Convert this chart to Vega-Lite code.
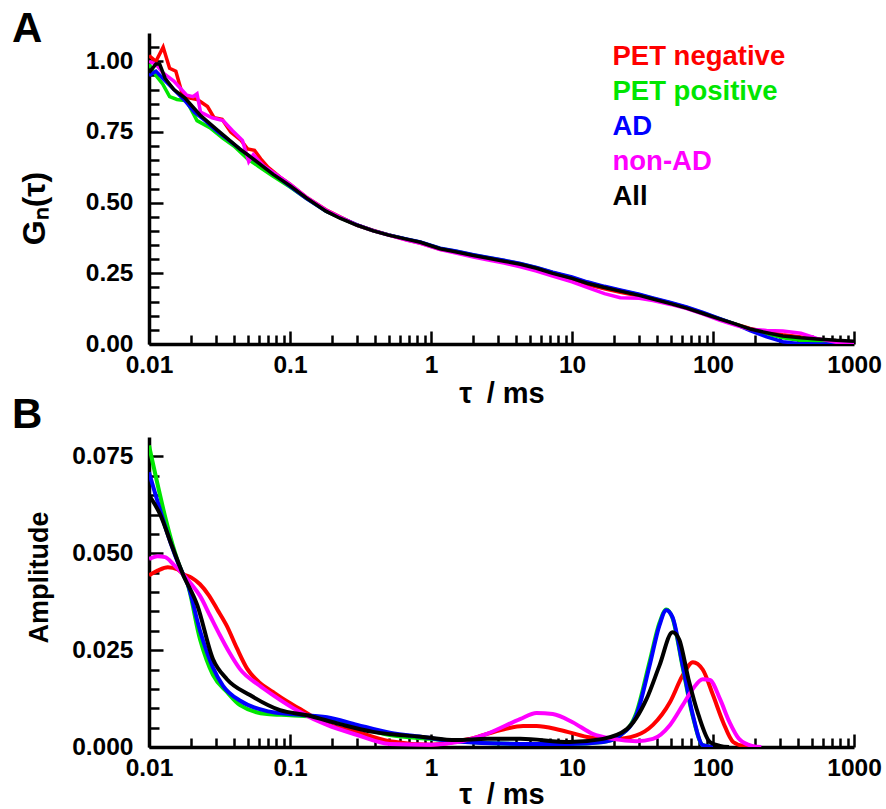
{
  "$schema": "https://vega.github.io/schema/vega-lite/v6.json",
  "padding": {"left": 12, "top": 8, "right": 0, "bottom": 0},
  "background": "white",
  "spacing": -15,
  "config": {
    "font": "Liberation Sans",
    "view": {"stroke": null},
    "axis": {
      "labelFont": "Liberation Sans", "labelFontWeight": "bold", "labelFontSize": 24.5, "labelColor": "black",
      "titleFont": "Liberation Sans", "titleFontWeight": "bold", "titleFontSize": 27, "titleColor": "black",
      "domainColor": "black", "domainWidth": 3.5, "tickColor": "black", "tickWidth": 2.5, "grid": false,
      "labelOverlap": false, "labelFlush": false
    },
    "title": {"font": "Liberation Sans", "fontWeight": "bold", "fontSize": 42, "color": "black", "anchor": "start", "frame": "group", "baseline": "alphabetic"}
  },
  "datasets": {
    "A": [
      {"series": "PET negative", "tau": 0.01, "y": 1.02}, {"series": "PET negative", "tau": 0.0112, "y": 1.0}, {"series": "PET negative", "tau": 0.0126, "y": 1.05}, {"series": "PET negative", "tau": 0.014, "y": 0.975}, {"series": "PET negative", "tau": 0.0155, "y": 0.965}, {"series": "PET negative", "tau": 0.0172, "y": 0.885}, {"series": "PET negative", "tau": 0.0195, "y": 0.87}, {"series": "PET negative", "tau": 0.022, "y": 0.865}, {"series": "PET negative", "tau": 0.026, "y": 0.84}, {"series": "PET negative", "tau": 0.029, "y": 0.8}, {"series": "PET negative", "tau": 0.033, "y": 0.795}, {"series": "PET negative", "tau": 0.038, "y": 0.75}, {"series": "PET negative", "tau": 0.045, "y": 0.72}, {"series": "PET negative", "tau": 0.05, "y": 0.69}, {"series": "PET negative", "tau": 0.056, "y": 0.685}, {"series": "PET negative", "tau": 0.062, "y": 0.655}, {"series": "PET negative", "tau": 0.07, "y": 0.625}, {"series": "PET negative", "tau": 0.085, "y": 0.59}, {"series": "PET negative", "tau": 0.1, "y": 0.565}, {"series": "PET negative", "tau": 0.13, "y": 0.52}, {"series": "PET negative", "tau": 0.18, "y": 0.475}, {"series": "PET negative", "tau": 0.23, "y": 0.448}, {"series": "PET negative", "tau": 0.3, "y": 0.42}, {"series": "PET negative", "tau": 0.39, "y": 0.402}, {"series": "PET negative", "tau": 0.5, "y": 0.386}, {"series": "PET negative", "tau": 0.68, "y": 0.368}, {"series": "PET negative", "tau": 0.84, "y": 0.357}, {"series": "PET negative", "tau": 1.16, "y": 0.335}, {"series": "PET negative", "tau": 1.5, "y": 0.325}, {"series": "PET negative", "tau": 2, "y": 0.31}, {"series": "PET negative", "tau": 2.5, "y": 0.302}, {"series": "PET negative", "tau": 3.3, "y": 0.29}, {"series": "PET negative", "tau": 4.3, "y": 0.278}, {"series": "PET negative", "tau": 5.6, "y": 0.264}, {"series": "PET negative", "tau": 7.3, "y": 0.245}, {"series": "PET negative", "tau": 10, "y": 0.228}, {"series": "PET negative", "tau": 12.8, "y": 0.21}, {"series": "PET negative", "tau": 17, "y": 0.195}, {"series": "PET negative", "tau": 22, "y": 0.183}, {"series": "PET negative", "tau": 30, "y": 0.17}, {"series": "PET negative", "tau": 37.5, "y": 0.158}, {"series": "PET negative", "tau": 50, "y": 0.142}, {"series": "PET negative", "tau": 65, "y": 0.128}, {"series": "PET negative", "tau": 85, "y": 0.108}, {"series": "PET negative", "tau": 112, "y": 0.088}, {"series": "PET negative", "tau": 145, "y": 0.07}, {"series": "PET negative", "tau": 183, "y": 0.055}, {"series": "PET negative", "tau": 240, "y": 0.042}, {"series": "PET negative", "tau": 313, "y": 0.033}, {"series": "PET negative", "tau": 420, "y": 0.025}, {"series": "PET negative", "tau": 545, "y": 0.017}, {"series": "PET negative", "tau": 750, "y": 0.01}, {"series": "PET negative", "tau": 1000, "y": 0.006},

      {"series": "PET positive", "tau": 0.01, "y": 0.99}, {"series": "PET positive", "tau": 0.0112, "y": 0.95}, {"series": "PET positive", "tau": 0.0125, "y": 0.92}, {"series": "PET positive", "tau": 0.014, "y": 0.875}, {"series": "PET positive", "tau": 0.0158, "y": 0.865}, {"series": "PET positive", "tau": 0.0185, "y": 0.86}, {"series": "PET positive", "tau": 0.0219, "y": 0.79}, {"series": "PET positive", "tau": 0.027, "y": 0.765}, {"series": "PET positive", "tau": 0.0335, "y": 0.727}, {"series": "PET positive", "tau": 0.04, "y": 0.7}, {"series": "PET positive", "tau": 0.05, "y": 0.655}, {"series": "PET positive", "tau": 0.06, "y": 0.628}, {"series": "PET positive", "tau": 0.075, "y": 0.595}, {"series": "PET positive", "tau": 0.1, "y": 0.555}, {"series": "PET positive", "tau": 0.13, "y": 0.515}, {"series": "PET positive", "tau": 0.18, "y": 0.47}, {"series": "PET positive", "tau": 0.23, "y": 0.445}, {"series": "PET positive", "tau": 0.3, "y": 0.42}, {"series": "PET positive", "tau": 0.39, "y": 0.4}, {"series": "PET positive", "tau": 0.5, "y": 0.386}, {"series": "PET positive", "tau": 0.68, "y": 0.37}, {"series": "PET positive", "tau": 0.84, "y": 0.36}, {"series": "PET positive", "tau": 1.16, "y": 0.338}, {"series": "PET positive", "tau": 1.5, "y": 0.328}, {"series": "PET positive", "tau": 2, "y": 0.315}, {"series": "PET positive", "tau": 2.5, "y": 0.306}, {"series": "PET positive", "tau": 3.3, "y": 0.295}, {"series": "PET positive", "tau": 4.3, "y": 0.284}, {"series": "PET positive", "tau": 5.6, "y": 0.27}, {"series": "PET positive", "tau": 7.3, "y": 0.253}, {"series": "PET positive", "tau": 10, "y": 0.235}, {"series": "PET positive", "tau": 12.8, "y": 0.218}, {"series": "PET positive", "tau": 17, "y": 0.202}, {"series": "PET positive", "tau": 22, "y": 0.189}, {"series": "PET positive", "tau": 30, "y": 0.174}, {"series": "PET positive", "tau": 37.5, "y": 0.161}, {"series": "PET positive", "tau": 50, "y": 0.145}, {"series": "PET positive", "tau": 65, "y": 0.129}, {"series": "PET positive", "tau": 85, "y": 0.11}, {"series": "PET positive", "tau": 112, "y": 0.089}, {"series": "PET positive", "tau": 145, "y": 0.07}, {"series": "PET positive", "tau": 183, "y": 0.052}, {"series": "PET positive", "tau": 240, "y": 0.036}, {"series": "PET positive", "tau": 313, "y": 0.022}, {"series": "PET positive", "tau": 420, "y": 0.012}, {"series": "PET positive", "tau": 545, "y": 0.007}, {"series": "PET positive", "tau": 750, "y": 0.004}, {"series": "PET positive", "tau": 1000, "y": 0.002},

      {"series": "AD", "tau": 0.01, "y": 0.95}, {"series": "AD", "tau": 0.0112, "y": 0.965}, {"series": "AD", "tau": 0.0125, "y": 0.94}, {"series": "AD", "tau": 0.015, "y": 0.9}, {"series": "AD", "tau": 0.018, "y": 0.86}, {"series": "AD", "tau": 0.021, "y": 0.82}, {"series": "AD", "tau": 0.025, "y": 0.79}, {"series": "AD", "tau": 0.03, "y": 0.755}, {"series": "AD", "tau": 0.036, "y": 0.725}, {"series": "AD", "tau": 0.044, "y": 0.69}, {"series": "AD", "tau": 0.055, "y": 0.655}, {"series": "AD", "tau": 0.065, "y": 0.628}, {"series": "AD", "tau": 0.08, "y": 0.595}, {"series": "AD", "tau": 0.1, "y": 0.558}, {"series": "AD", "tau": 0.13, "y": 0.515}, {"series": "AD", "tau": 0.18, "y": 0.47}, {"series": "AD", "tau": 0.23, "y": 0.446}, {"series": "AD", "tau": 0.3, "y": 0.421}, {"series": "AD", "tau": 0.39, "y": 0.401}, {"series": "AD", "tau": 0.5, "y": 0.386}, {"series": "AD", "tau": 0.68, "y": 0.371}, {"series": "AD", "tau": 0.84, "y": 0.361}, {"series": "AD", "tau": 1.16, "y": 0.339}, {"series": "AD", "tau": 1.5, "y": 0.329}, {"series": "AD", "tau": 2, "y": 0.316}, {"series": "AD", "tau": 2.5, "y": 0.307}, {"series": "AD", "tau": 3.3, "y": 0.296}, {"series": "AD", "tau": 4.3, "y": 0.285}, {"series": "AD", "tau": 5.6, "y": 0.271}, {"series": "AD", "tau": 7.3, "y": 0.254}, {"series": "AD", "tau": 10, "y": 0.237}, {"series": "AD", "tau": 12.8, "y": 0.22}, {"series": "AD", "tau": 17, "y": 0.204}, {"series": "AD", "tau": 22, "y": 0.191}, {"series": "AD", "tau": 30, "y": 0.176}, {"series": "AD", "tau": 37.5, "y": 0.163}, {"series": "AD", "tau": 50, "y": 0.147}, {"series": "AD", "tau": 65, "y": 0.131}, {"series": "AD", "tau": 85, "y": 0.112}, {"series": "AD", "tau": 112, "y": 0.09}, {"series": "AD", "tau": 145, "y": 0.069}, {"series": "AD", "tau": 183, "y": 0.047}, {"series": "AD", "tau": 240, "y": 0.025}, {"series": "AD", "tau": 313, "y": 0.008}, {"series": "AD", "tau": 400, "y": 0.002}, {"series": "AD", "tau": 545, "y": 0.0}, {"series": "AD", "tau": 1000, "y": 0.0},

      {"series": "non-AD", "tau": 0.01, "y": 1.0}, {"series": "non-AD", "tau": 0.0112, "y": 0.99}, {"series": "non-AD", "tau": 0.0125, "y": 0.96}, {"series": "non-AD", "tau": 0.015, "y": 0.93}, {"series": "non-AD", "tau": 0.0185, "y": 0.88}, {"series": "non-AD", "tau": 0.0205, "y": 0.875}, {"series": "non-AD", "tau": 0.0219, "y": 0.885}, {"series": "non-AD", "tau": 0.0232, "y": 0.82}, {"series": "non-AD", "tau": 0.028, "y": 0.8}, {"series": "non-AD", "tau": 0.0335, "y": 0.79}, {"series": "non-AD", "tau": 0.039, "y": 0.755}, {"series": "non-AD", "tau": 0.046, "y": 0.72}, {"series": "non-AD", "tau": 0.051, "y": 0.645}, {"series": "non-AD", "tau": 0.055, "y": 0.67}, {"series": "non-AD", "tau": 0.065, "y": 0.63}, {"series": "non-AD", "tau": 0.08, "y": 0.6}, {"series": "non-AD", "tau": 0.1, "y": 0.565}, {"series": "non-AD", "tau": 0.13, "y": 0.52}, {"series": "non-AD", "tau": 0.18, "y": 0.474}, {"series": "non-AD", "tau": 0.23, "y": 0.447}, {"series": "non-AD", "tau": 0.3, "y": 0.42}, {"series": "non-AD", "tau": 0.39, "y": 0.4}, {"series": "non-AD", "tau": 0.5, "y": 0.385}, {"series": "non-AD", "tau": 0.68, "y": 0.367}, {"series": "non-AD", "tau": 0.84, "y": 0.356}, {"series": "non-AD", "tau": 1.16, "y": 0.334}, {"series": "non-AD", "tau": 1.5, "y": 0.322}, {"series": "non-AD", "tau": 2, "y": 0.308}, {"series": "non-AD", "tau": 2.5, "y": 0.298}, {"series": "non-AD", "tau": 3.3, "y": 0.286}, {"series": "non-AD", "tau": 4.3, "y": 0.273}, {"series": "non-AD", "tau": 5.6, "y": 0.258}, {"series": "non-AD", "tau": 7.3, "y": 0.24}, {"series": "non-AD", "tau": 10, "y": 0.22}, {"series": "non-AD", "tau": 12.8, "y": 0.2}, {"series": "non-AD", "tau": 17, "y": 0.178}, {"series": "non-AD", "tau": 22, "y": 0.164}, {"series": "non-AD", "tau": 30, "y": 0.162}, {"series": "non-AD", "tau": 37.5, "y": 0.154}, {"series": "non-AD", "tau": 50, "y": 0.14}, {"series": "non-AD", "tau": 65, "y": 0.125}, {"series": "non-AD", "tau": 85, "y": 0.106}, {"series": "non-AD", "tau": 112, "y": 0.084}, {"series": "non-AD", "tau": 145, "y": 0.066}, {"series": "non-AD", "tau": 183, "y": 0.052}, {"series": "non-AD", "tau": 240, "y": 0.048}, {"series": "non-AD", "tau": 313, "y": 0.046}, {"series": "non-AD", "tau": 420, "y": 0.038}, {"series": "non-AD", "tau": 545, "y": 0.02}, {"series": "non-AD", "tau": 750, "y": 0.006}, {"series": "non-AD", "tau": 1000, "y": 0.002},

      {"series": "All", "tau": 0.01, "y": 0.96}, {"series": "All", "tau": 0.0112, "y": 0.99}, {"series": "All", "tau": 0.0119, "y": 0.99}, {"series": "All", "tau": 0.013, "y": 0.94}, {"series": "All", "tau": 0.015, "y": 0.9}, {"series": "All", "tau": 0.018, "y": 0.87}, {"series": "All", "tau": 0.023, "y": 0.81}, {"series": "All", "tau": 0.03, "y": 0.76}, {"series": "All", "tau": 0.044, "y": 0.69}, {"series": "All", "tau": 0.06, "y": 0.64}, {"series": "All", "tau": 0.076, "y": 0.6}, {"series": "All", "tau": 0.1, "y": 0.56}, {"series": "All", "tau": 0.132, "y": 0.515}, {"series": "All", "tau": 0.18, "y": 0.47}, {"series": "All", "tau": 0.226, "y": 0.445}, {"series": "All", "tau": 0.3, "y": 0.42}, {"series": "All", "tau": 0.39, "y": 0.4}, {"series": "All", "tau": 0.5, "y": 0.385}, {"series": "All", "tau": 0.68, "y": 0.37}, {"series": "All", "tau": 0.84, "y": 0.36}, {"series": "All", "tau": 1.16, "y": 0.337}, {"series": "All", "tau": 1.43, "y": 0.328}, {"series": "All", "tau": 2, "y": 0.313}, {"series": "All", "tau": 2.5, "y": 0.304}, {"series": "All", "tau": 3.3, "y": 0.293}, {"series": "All", "tau": 4.3, "y": 0.282}, {"series": "All", "tau": 5.6, "y": 0.268}, {"series": "All", "tau": 7.3, "y": 0.25}, {"series": "All", "tau": 10, "y": 0.232}, {"series": "All", "tau": 12.8, "y": 0.215}, {"series": "All", "tau": 17, "y": 0.2}, {"series": "All", "tau": 22, "y": 0.187}, {"series": "All", "tau": 30, "y": 0.172}, {"series": "All", "tau": 37.5, "y": 0.159}, {"series": "All", "tau": 50, "y": 0.143}, {"series": "All", "tau": 65, "y": 0.127}, {"series": "All", "tau": 85, "y": 0.108}, {"series": "All", "tau": 112, "y": 0.088}, {"series": "All", "tau": 145, "y": 0.07}, {"series": "All", "tau": 183, "y": 0.053}, {"series": "All", "tau": 240, "y": 0.04}, {"series": "All", "tau": 313, "y": 0.028}, {"series": "All", "tau": 420, "y": 0.022}, {"series": "All", "tau": 545, "y": 0.018}, {"series": "All", "tau": 750, "y": 0.013}, {"series": "All", "tau": 1000, "y": 0.01}
    ],
    "B": [
      {"series": "PET negative", "tau": 0.01, "y": 0.0443}, {"series": "PET negative", "tau": 0.0115, "y": 0.0455}, {"series": "PET negative", "tau": 0.0136, "y": 0.0464}, {"series": "PET negative", "tau": 0.016, "y": 0.0458}, {"series": "PET negative", "tau": 0.0174, "y": 0.0447}, {"series": "PET negative", "tau": 0.02, "y": 0.0437}, {"series": "PET negative", "tau": 0.023, "y": 0.042}, {"series": "PET negative", "tau": 0.0265, "y": 0.0392}, {"series": "PET negative", "tau": 0.0305, "y": 0.0355}, {"series": "PET negative", "tau": 0.0357, "y": 0.0312}, {"series": "PET negative", "tau": 0.042, "y": 0.0255}, {"series": "PET negative", "tau": 0.0495, "y": 0.0203}, {"series": "PET negative", "tau": 0.06, "y": 0.0168}, {"series": "PET negative", "tau": 0.0757, "y": 0.0142}, {"series": "PET negative", "tau": 0.095, "y": 0.0118}, {"series": "PET negative", "tau": 0.118, "y": 0.0098}, {"series": "PET negative", "tau": 0.17, "y": 0.0064}, {"series": "PET negative", "tau": 0.3, "y": 0.0039}, {"series": "PET negative", "tau": 0.51, "y": 0.0015}, {"series": "PET negative", "tau": 1.0, "y": 0.0006}, {"series": "PET negative", "tau": 1.89, "y": 0.0021}, {"series": "PET negative", "tau": 3.3, "y": 0.0046}, {"series": "PET negative", "tau": 4.5, "y": 0.0054}, {"series": "PET negative", "tau": 5.6, "y": 0.0054}, {"series": "PET negative", "tau": 8.2, "y": 0.0044}, {"series": "PET negative", "tau": 12.8, "y": 0.0026}, {"series": "PET negative", "tau": 19.5, "y": 0.002}, {"series": "PET negative", "tau": 28.6, "y": 0.003}, {"series": "PET negative", "tau": 37.5, "y": 0.0057}, {"series": "PET negative", "tau": 49.6, "y": 0.0116}, {"series": "PET negative", "tau": 61, "y": 0.0185}, {"series": "PET negative", "tau": 72, "y": 0.0219}, {"series": "PET negative", "tau": 84.5, "y": 0.02}, {"series": "PET negative", "tau": 100, "y": 0.0134}, {"series": "PET negative", "tau": 118, "y": 0.0064}, {"series": "PET negative", "tau": 139, "y": 0.0013}, {"series": "PET negative", "tau": 163, "y": 0.0003}, {"series": "PET negative", "tau": 200, "y": 0.0},

      {"series": "PET positive", "tau": 0.01, "y": 0.0778}, {"series": "PET positive", "tau": 0.0174, "y": 0.0446}, {"series": "PET positive", "tau": 0.0186, "y": 0.0425}, {"series": "PET positive", "tau": 0.023, "y": 0.0278}, {"series": "PET positive", "tau": 0.0284, "y": 0.0186}, {"series": "PET positive", "tau": 0.0357, "y": 0.0142}, {"series": "PET positive", "tau": 0.0442, "y": 0.0108}, {"series": "PET positive", "tau": 0.0687, "y": 0.0085}, {"series": "PET positive", "tau": 0.1, "y": 0.0082}, {"series": "PET positive", "tau": 0.183, "y": 0.0075}, {"series": "PET positive", "tau": 0.3, "y": 0.0052}, {"series": "PET positive", "tau": 0.51, "y": 0.0031}, {"series": "PET positive", "tau": 0.98, "y": 0.0021}, {"series": "PET positive", "tau": 2, "y": 0.0012}, {"series": "PET positive", "tau": 4.3, "y": 0.0008}, {"series": "PET positive", "tau": 9.6, "y": 0.0008}, {"series": "PET positive", "tau": 16.6, "y": 0.0013}, {"series": "PET positive", "tau": 21.9, "y": 0.003}, {"series": "PET positive", "tau": 28.6, "y": 0.0088}, {"series": "PET positive", "tau": 35.5, "y": 0.022}, {"series": "PET positive", "tau": 41.7, "y": 0.032}, {"series": "PET positive", "tau": 46.6, "y": 0.0355}, {"series": "PET positive", "tau": 51.6, "y": 0.0333}, {"series": "PET positive", "tau": 61, "y": 0.0205}, {"series": "PET positive", "tau": 72, "y": 0.0078}, {"series": "PET positive", "tau": 84.5, "y": 0.0005}, {"series": "PET positive", "tau": 100, "y": 0.0},

      {"series": "AD", "tau": 0.01, "y": 0.0709}, {"series": "AD", "tau": 0.0174, "y": 0.0446}, {"series": "AD", "tau": 0.0186, "y": 0.0425}, {"series": "AD", "tau": 0.023, "y": 0.03}, {"series": "AD", "tau": 0.0284, "y": 0.0205}, {"series": "AD", "tau": 0.0335, "y": 0.0158}, {"series": "AD", "tau": 0.045, "y": 0.0118}, {"series": "AD", "tau": 0.07, "y": 0.0092}, {"series": "AD", "tau": 0.1, "y": 0.0085}, {"series": "AD", "tau": 0.183, "y": 0.0077}, {"series": "AD", "tau": 0.3, "y": 0.0057}, {"series": "AD", "tau": 0.51, "y": 0.0037}, {"series": "AD", "tau": 0.9, "y": 0.0025}, {"series": "AD", "tau": 1.43, "y": 0.0015}, {"series": "AD", "tau": 4.3, "y": 0.0008}, {"series": "AD", "tau": 9.6, "y": 0.0008}, {"series": "AD", "tau": 16.6, "y": 0.0013}, {"series": "AD", "tau": 21.9, "y": 0.003}, {"series": "AD", "tau": 28.6, "y": 0.0082}, {"series": "AD", "tau": 35.5, "y": 0.021}, {"series": "AD", "tau": 41.7, "y": 0.0314}, {"series": "AD", "tau": 46.6, "y": 0.0353}, {"series": "AD", "tau": 51.6, "y": 0.0335}, {"series": "AD", "tau": 61, "y": 0.021}, {"series": "AD", "tau": 72, "y": 0.0082}, {"series": "AD", "tau": 84.5, "y": 0.0005}, {"series": "AD", "tau": 100, "y": 0.0},

      {"series": "non-AD", "tau": 0.01, "y": 0.0485}, {"series": "non-AD", "tau": 0.0115, "y": 0.0492}, {"series": "non-AD", "tau": 0.013, "y": 0.049}, {"series": "non-AD", "tau": 0.015, "y": 0.047}, {"series": "non-AD", "tau": 0.0174, "y": 0.0446}, {"series": "non-AD", "tau": 0.02, "y": 0.042}, {"series": "non-AD", "tau": 0.023, "y": 0.039}, {"series": "non-AD", "tau": 0.027, "y": 0.034}, {"series": "non-AD", "tau": 0.0318, "y": 0.0289}, {"series": "non-AD", "tau": 0.037, "y": 0.0245}, {"series": "non-AD", "tau": 0.0442, "y": 0.0201}, {"series": "non-AD", "tau": 0.06, "y": 0.016}, {"series": "non-AD", "tau": 0.0757, "y": 0.0134}, {"series": "non-AD", "tau": 0.118, "y": 0.009}, {"series": "non-AD", "tau": 0.183, "y": 0.0057}, {"series": "non-AD", "tau": 0.3, "y": 0.0031}, {"series": "non-AD", "tau": 0.51, "y": 0.0008}, {"series": "non-AD", "tau": 1.0, "y": 0.0006}, {"series": "non-AD", "tau": 1.5, "y": 0.0012}, {"series": "non-AD", "tau": 2.49, "y": 0.0034}, {"series": "non-AD", "tau": 4.28, "y": 0.0072}, {"series": "non-AD", "tau": 5.6, "y": 0.0088}, {"series": "non-AD", "tau": 7.3, "y": 0.0085}, {"series": "non-AD", "tau": 10.1, "y": 0.0064}, {"series": "non-AD", "tau": 14, "y": 0.0034}, {"series": "non-AD", "tau": 19.5, "y": 0.0021}, {"series": "non-AD", "tau": 28.6, "y": 0.0015}, {"series": "non-AD", "tau": 37.5, "y": 0.0021}, {"series": "non-AD", "tau": 49.6, "y": 0.0057}, {"series": "non-AD", "tau": 61, "y": 0.0108}, {"series": "non-AD", "tau": 72, "y": 0.015}, {"series": "non-AD", "tau": 84.5, "y": 0.0175}, {"series": "non-AD", "tau": 95, "y": 0.0173}, {"series": "non-AD", "tau": 112, "y": 0.0124}, {"series": "non-AD", "tau": 131, "y": 0.0064}, {"series": "non-AD", "tau": 153, "y": 0.0021}, {"series": "non-AD", "tau": 189, "y": 0.0003}, {"series": "non-AD", "tau": 220, "y": 0.0},

      {"series": "All", "tau": 0.01, "y": 0.065}, {"series": "All", "tau": 0.012, "y": 0.06}, {"series": "All", "tau": 0.0145, "y": 0.052}, {"series": "All", "tau": 0.0174, "y": 0.0446}, {"series": "All", "tau": 0.022, "y": 0.0366}, {"series": "All", "tau": 0.0284, "y": 0.0227}, {"series": "All", "tau": 0.0357, "y": 0.0175}, {"series": "All", "tau": 0.052, "y": 0.0134}, {"series": "All", "tau": 0.085, "y": 0.0095}, {"series": "All", "tau": 0.132, "y": 0.0082}, {"series": "All", "tau": 0.226, "y": 0.0059}, {"series": "All", "tau": 0.388, "y": 0.0039}, {"series": "All", "tau": 0.88, "y": 0.0026}, {"series": "All", "tau": 1.5, "y": 0.0018}, {"series": "All", "tau": 2.5, "y": 0.0021}, {"series": "All", "tau": 4.3, "y": 0.0021}, {"series": "All", "tau": 9.6, "y": 0.0013}, {"series": "All", "tau": 16.6, "y": 0.0021}, {"series": "All", "tau": 24.5, "y": 0.0046}, {"series": "All", "tau": 33.8, "y": 0.0124}, {"series": "All", "tau": 41.7, "y": 0.021}, {"series": "All", "tau": 51.6, "y": 0.0296}, {"series": "All", "tau": 57.5, "y": 0.0278}, {"series": "All", "tau": 67, "y": 0.0175}, {"series": "All", "tau": 79, "y": 0.0082}, {"series": "All", "tau": 95, "y": 0.0013}, {"series": "All", "tau": 112, "y": 0.0003}, {"series": "All", "tau": 130, "y": 0.0}
    ]
  },
  "vconcat": [
    {
      "width": 705,
      "height": 311,
      "title": {"text": "A", "dx": -137, "offset": -18},
      "data": {"name": "A"},
      "mark": {"type": "line", "strokeWidth": 3.5, "clip": true},
      "encoding": {
        "x": {
          "field": "tau", "type": "quantitative",
          "scale": {"type": "log", "domain": [0.01, 1000], "nice": false},
          "axis": {
            "title": "τ\u2002/ ms",
            "values": [0.01, 0.02, 0.03, 0.04, 0.05, 0.06, 0.07, 0.08, 0.09, 0.1, 0.2, 0.3, 0.4, 0.5, 0.6, 0.7, 0.8, 0.9, 1, 2, 3, 4, 5, 6, 7, 8, 9, 10, 20, 30, 40, 50, 60, 70, 80, 90, 100, 200, 300, 400, 500, 600, 700, 800, 900, 1000],
            "format": "~g",
            "labelExpr": "indexof([0.01,0.1,1,10,100,1000], datum.value) >= 0 ? datum.label : ''",
            "tickSize": {"condition": {"test": "indexof([0.01,0.1,1,10,100,1000], datum.value) >= 0", "value": -13}, "value": -9},
            "labelPadding": 22,
            "titlePadding": -1,
            "titleFontSize": 29
          }
        },
        "y": {
          "field": "y", "type": "quantitative",
          "scale": {"domain": [0, 1.1], "nice": false, "zero": true},
          "axis": {
            "title": "Gₙ(τ)",
            "values": [0, 0.05, 0.1, 0.15, 0.2, 0.25, 0.3, 0.35, 0.4, 0.45, 0.5, 0.55, 0.6, 0.65, 0.7, 0.75, 0.8, 0.85, 0.9, 0.95, 1, 1.05],
            "format": ".2f",
            "labelExpr": "indexof([0,0.25,0.5,0.75,1], datum.value) >= 0 ? datum.label : ''",
            "tickSize": {"condition": {"test": "indexof([0,0.25,0.5,0.75,1], datum.value) >= 0", "value": -14}, "value": -10},
            "labelPadding": 30,
            "titleFontSize": 32,
            "titleX": -98,
            "titleY": 175
          }
        },
        "color": {
          "field": "series", "type": "nominal",
          "scale": {"domain": ["PET negative", "PET positive", "AD", "non-AD", "All"], "range": ["#ff0000", "#00e600", "#0000ff", "#ff00ff", "#000000"]},
          "legend": {
            "orient": "none", "legendX": 436, "legendY": 10, "title": null,
            "symbolSize": 0, "symbolStrokeWidth": 0, "symbolOpacity": 0, "labelOffset": 0,
            "labelFontSize": 27.5, "labelFont": "Liberation Sans", "labelFontWeight": "bold",
            "rowPadding": 6, "labelLimit": 400,
            "encode": {"labels": {"update": {"fill": {"scale": "color", "field": "value"}}}}
          }
        }
      }
    },
    {
      "width": 705,
      "height": 310,
      "title": {"text": "B", "dx": -137, "offset": 0},
      "data": {"name": "B"},
      "mark": {"type": "line", "strokeWidth": 4, "interpolate": "monotone", "clip": true},
      "encoding": {
        "x": {
          "field": "tau", "type": "quantitative",
          "scale": {"type": "log", "domain": [0.01, 1000], "nice": false},
          "axis": {
            "title": "τ\u2002/ ms",
            "values": [0.01, 0.02, 0.03, 0.04, 0.05, 0.06, 0.07, 0.08, 0.09, 0.1, 0.2, 0.3, 0.4, 0.5, 0.6, 0.7, 0.8, 0.9, 1, 2, 3, 4, 5, 6, 7, 8, 9, 10, 20, 30, 40, 50, 60, 70, 80, 90, 100, 200, 300, 400, 500, 600, 700, 800, 900, 1000],
            "format": "~g",
            "labelExpr": "indexof([0.01,0.1,1,10,100,1000], datum.value) >= 0 ? datum.label : ''",
            "tickSize": {"condition": {"test": "indexof([0.01,0.1,1,10,100,1000], datum.value) >= 0", "value": -13}, "value": -9},
            "labelPadding": 22,
            "titlePadding": -3,
            "titleFontSize": 29
          }
        },
        "y": {
          "field": "y", "type": "quantitative",
          "scale": {"domain": [0, 0.08], "nice": false},
          "axis": {
            "title": "Amplitude",
            "values": [0, 0.005, 0.01, 0.015, 0.02, 0.025, 0.03, 0.035, 0.04, 0.045, 0.05, 0.055, 0.06, 0.065, 0.07, 0.075],
            "format": ".3f",
            "labelExpr": "indexof([0,0.025,0.05,0.075], datum.value) >= 0 ? datum.label : ''",
            "tickSize": {"condition": {"test": "indexof([0,0.025,0.05,0.075], datum.value) >= 0", "value": -14}, "value": -10},
            "labelPadding": 30,
            "titleX": -96,
            "titleY": 140
          }
        },
        "color": {
          "field": "series", "type": "nominal",
          "scale": {"domain": ["PET negative", "PET positive", "AD", "non-AD", "All"], "range": ["#ff0000", "#00e600", "#0000ff", "#ff00ff", "#000000"]},
          "legend": null
        }
      }
    }
  ]
}
